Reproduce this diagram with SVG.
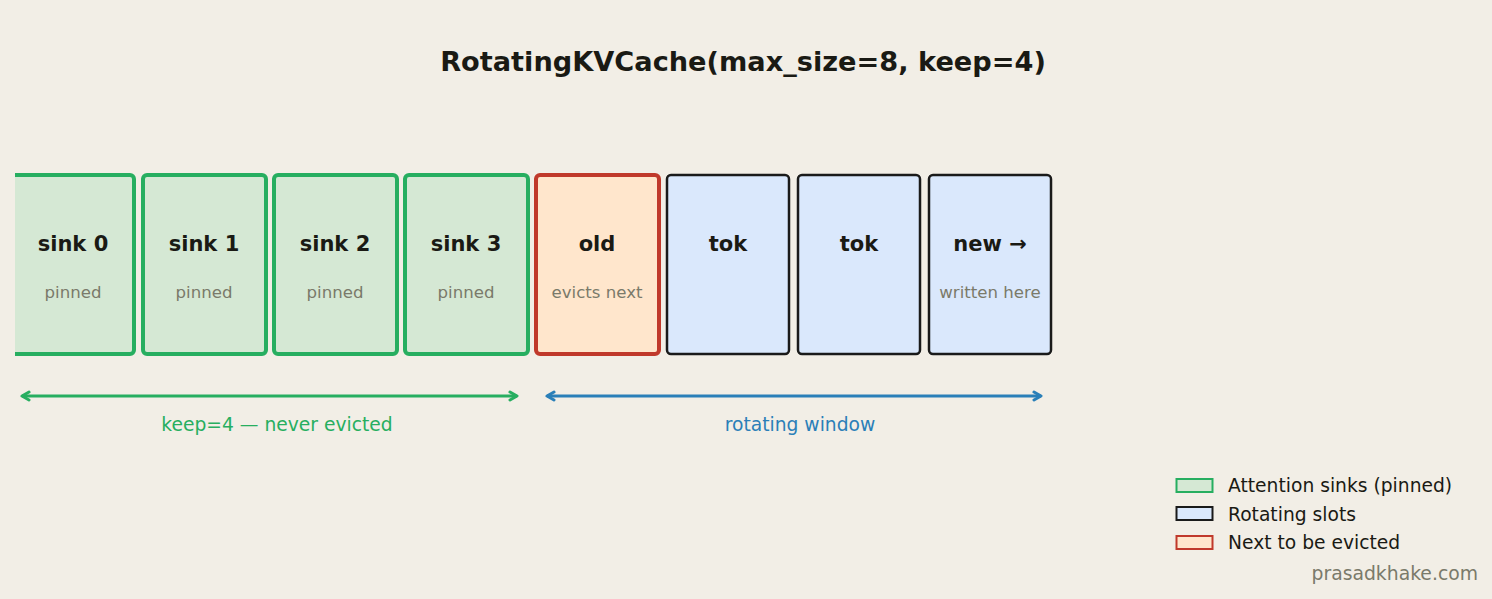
<svg xmlns="http://www.w3.org/2000/svg" width="1492" height="599" viewBox="0 0 1492 599">
<style>
text{font-family:"DejaVu Sans",sans-serif}
.t{font-size:21px;font-weight:bold;fill:#1a1a14;text-anchor:middle}
.s{font-size:16.6px;fill:#7a7a6a;text-anchor:middle}
.sink{fill:#d5e8d4;stroke:#27ae60;stroke-width:4}
.rot{fill:#dae8fc;stroke:#1a1a1a;stroke-width:2.5}
.ev{fill:#ffe6cc;stroke:#c0392b;stroke-width:4}
.lg{font-size:18.7px;fill:#1a1a14}
</style>
<defs>
<clipPath id="c"><rect x="15" y="0" width="1477" height="599"/></clipPath>
<marker id="ag" viewBox="0 0 12 12" refX="10" refY="6" markerWidth="12" markerHeight="12" orient="auto-start-reverse" markerUnits="userSpaceOnUse"><path d="M3,2 L10,6 L3,10" fill="none" stroke="#27ae60" stroke-width="3" stroke-linejoin="round" stroke-linecap="round"/></marker>
<marker id="ab" viewBox="0 0 12 12" refX="10" refY="6" markerWidth="12" markerHeight="12" orient="auto-start-reverse" markerUnits="userSpaceOnUse"><path d="M3,2 L10,6 L3,10" fill="none" stroke="#2a7fb8" stroke-width="3" stroke-linejoin="round" stroke-linecap="round"/></marker>
</defs>
<rect width="1492" height="599" fill="#f2eee6"/>
<text x="743" y="71" text-anchor="middle" font-size="27.2" font-weight="bold" fill="#1a1a14">RotatingKVCache(max_size=8, keep=4)</text>
<g clip-path="url(#c)">
<g id="sink0"><rect class="sink" x="11" y="175" width="123" height="179" rx="4"/><text class="t" x="73" y="251">sink 0</text><text class="s" x="73" y="298">pinned</text></g>
</g>
<g id="sink1"><rect class="sink" x="143" y="175" width="123" height="179" rx="4"/><text class="t" x="204" y="251">sink 1</text><text class="s" x="204" y="298">pinned</text></g>
<g id="sink2"><rect class="sink" x="274" y="175" width="123" height="179" rx="4"/><text class="t" x="335" y="251">sink 2</text><text class="s" x="335" y="298">pinned</text></g>
<g id="sink3"><rect class="sink" x="405" y="175" width="123" height="179" rx="4"/><text class="t" x="466" y="251">sink 3</text><text class="s" x="466" y="298">pinned</text></g>
<g id="old"><rect class="ev" x="536" y="175" width="123" height="179" rx="4"/><text class="t" x="597" y="251">old</text><text class="s" x="597" y="298">evicts next</text></g>
<g id="tok1"><rect class="rot" x="667" y="175" width="122" height="179" rx="4"/><text class="t" x="728" y="251">tok</text></g>
<g id="tok2"><rect class="rot" x="798" y="175" width="122" height="179" rx="4"/><text class="t" x="859" y="251">tok</text></g>
<g id="new"><rect class="rot" x="929" y="175" width="122" height="179" rx="4"/><text class="t" x="990" y="251">new →</text><text class="s" x="990" y="298">written here</text></g>
<g id="connectors">
<line x1="22" y1="396" x2="517" y2="396" stroke="#27ae60" stroke-width="3" marker-start="url(#ag)" marker-end="url(#ag)"/>
<line x1="547" y1="396" x2="1041" y2="396" stroke="#2a7fb8" stroke-width="3" marker-start="url(#ab)" marker-end="url(#ab)"/>
</g>
<text x="277" y="431" text-anchor="middle" font-size="18.7" fill="#27ae60">keep=4 — never evicted</text>
<text x="800" y="431" text-anchor="middle" font-size="18.7" fill="#2a7fb8">rotating window</text>
<g id="legend">
<rect x="1176.5" y="479" width="36" height="13" fill="#d5e8d4" stroke="#27ae60" stroke-width="2"/>
<text class="lg" x="1228" y="492">Attention sinks (pinned)</text>
<rect x="1176.5" y="507" width="36" height="13" fill="#dae8fc" stroke="#1a1a1a" stroke-width="2"/>
<text class="lg" x="1228" y="521">Rotating slots</text>
<rect x="1176.5" y="536" width="36" height="13" fill="#ffe6cc" stroke="#c0392b" stroke-width="2"/>
<text class="lg" x="1228" y="549">Next to be evicted</text>
</g>
<text x="1478" y="580" text-anchor="end" font-size="18.8" fill="#7a7a6a">prasadkhake.com</text>
</svg>
